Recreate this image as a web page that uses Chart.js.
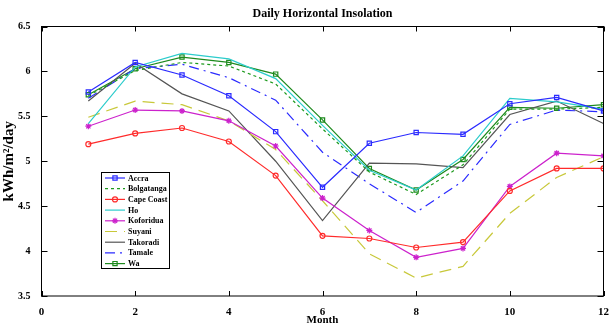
<!DOCTYPE html>
<html>
<head>
<meta charset="utf-8">
<script src="https://cdn.jsdelivr.net/npm/chart.js@4.4.0/dist/chart.umd.min.js"></script>
<style>
  html, body { margin: 0; padding: 0; background: #fff; }
  #wrap { width: 611px; height: 327px; position: relative; }
</style>
</head>
<body>
<div id="wrap"><canvas id="chart"></canvas></div>
<script>
// Monthly values, kWh/m2/day
const months = [1, 2, 3, 4, 5, 6, 7, 8, 9, 10, 11, 12];
const accra      = [5.77, 6.10, 5.96, 5.73, 5.33, 4.71, 5.20, 5.32, 5.30, 5.64, 5.71, 5.56];
const bolgatanga = [5.73, 6.01, 6.10, 6.06, 5.86, 5.36, 4.88, 4.63, 4.96, 5.58, 5.58, 5.60];
const capeCoast  = [5.19, 5.31, 5.37, 5.22, 4.84, 4.17, 4.14, 4.04, 4.10, 4.67, 4.92, 4.92];
const ho         = [5.42, 6.05, 6.20, 6.14, 5.92, 5.40, 4.90, 4.68, 5.06, 5.70, 5.66, 5.58];
const koforidua  = [5.39, 5.57, 5.56, 5.45, 5.17, 4.59, 4.23, 3.93, 4.03, 4.72, 5.09, 5.06];
const suyani     = [5.49, 5.67, 5.63, 5.45, 5.13, 4.56, 3.97, 3.70, 3.83, 4.42, 4.82, 5.05];
const takoradi   = [5.67, 6.09, 5.75, 5.56, 5.00, 4.34, 4.98, 4.97, 4.93, 5.52, 5.67, 5.42];
const tamale     = [5.70, 6.03, 6.08, 5.93, 5.68, 5.10, 4.75, 4.43, 4.78, 5.41, 5.57, 5.55];
const wa         = [5.74, 6.03, 6.16, 6.10, 5.97, 5.46, 4.92, 4.68, 5.02, 5.60, 5.59, 5.63];

const xTicks = [0, 2, 4, 6, 8, 10, 12];
const yTicks = [3.5, 4, 4.5, 5, 5.5, 6, 6.5];

const titleText = 'Daily Horizontal Insolation';
const serif = '"Liberation Serif", "DejaVu Serif", serif';

const toPoints = vals => months.map((m, i) => ({ x: m, y: vals[i] }));

const makeSet = (label, vals, color, dash, style) => ({
    label: label,
    data: toPoints(vals),
    borderColor: color,
    backgroundColor: 'rgba(0,0,0,0)',
    borderWidth: 1.2,
    borderDash: dash,
    pointStyle: style || 'circle',
    pointRadius: style ? 3 : 0,
    pointBorderColor: color,
    pointBackgroundColor: 'rgba(0,0,0,0)',
    pointBorderWidth: 1.2,
    tension: 0,
    fill: false
});

const datasets = [
    makeSet('Accra', accra, '#2b2bff', [], 'rect'),
    makeSet('Bolgatanga', bolgatanga, '#1e9a1e', [3, 3]),
    makeSet('Cape Coast', capeCoast, '#ff2b2b', [], 'circle'),
    makeSet('Ho', ho, '#2ccccc', []),
    makeSet('Koforidua', koforidua, '#cc22cc', [], 'star'),
    makeSet('Suyani', suyani, '#c8c83a', [12, 7]),
    makeSet('Takoradi', takoradi, '#555555', []),
    makeSet('Tamale', tamale, '#2b2bff', [10, 5, 2, 5]),
    makeSet('Wa', wa, '#1e8a1e', [], 'rect')
];
datasets[2].pointRadius = 2.5;

// title over the plot, frame, inward ticks and the boxed legend
const framePlugin = {
    id: 'frame',
    afterDraw(chart) {
        const ctx = chart.ctx;
        const a = chart.chartArea;
        const xs = chart.scales.x, ys = chart.scales.y;
        ctx.save();
        ctx.fillStyle = '#000';
        ctx.font = 'bold 12px ' + serif;
        ctx.textAlign = 'center';
        ctx.textBaseline = 'middle';
        ctx.fillText(titleText, (a.left + a.right) / 2, 14);
        ctx.textAlign = 'left';

        ctx.strokeStyle = '#000';
        ctx.lineWidth = 1;
        ctx.setLineDash([]);
        ctx.strokeRect(a.left, a.top, a.right - a.left, a.bottom - a.top);
        ctx.beginPath();
        xTicks.forEach(v => {
            const px = Math.round(xs.getPixelForValue(v)) + 0.5;
            ctx.moveTo(px, a.bottom); ctx.lineTo(px, a.bottom - 5);
            ctx.moveTo(px, a.top); ctx.lineTo(px, a.top + 5);
        });
        yTicks.forEach(v => {
            const py = Math.round(ys.getPixelForValue(v)) + 0.5;
            ctx.moveTo(a.left, py); ctx.lineTo(a.left + 6, py);
            ctx.moveTo(a.right, py); ctx.lineTo(a.right - 6, py);
        });
        ctx.stroke();

        // legend
        const lx = 101, ly = 172, lw = 68, lh = 96, step = 10.7;
        ctx.fillStyle = '#fff';
        ctx.fillRect(lx, ly, lw, lh);
        ctx.strokeStyle = '#000';
        ctx.strokeRect(lx + 0.5, ly + 0.5, lw, lh);
        ctx.font = 'bold 8px ' + serif;
        chart.data.datasets.forEach((ds, i) => {
            const y = ly + 6 + i * step;
            ctx.strokeStyle = ds.borderColor;
            ctx.lineWidth = 1.2;
            ctx.setLineDash(ds.borderDash);
            ctx.beginPath();
            ctx.moveTo(lx + 4, y); ctx.lineTo(lx + 24, y);
            ctx.stroke();
            ctx.setLineDash([]);
            if (ds.pointRadius > 0) {
                ctx.fillStyle = 'rgba(0,0,0,0)';
                Chart.helpers.drawPoint(ctx, {
                    pointStyle: ds.pointStyle, radius: ds.pointRadius,
                    borderWidth: 1.2, rotation: 0
                }, lx + 14, y);
            }
            ctx.fillStyle = '#000';
            ctx.fillText(ds.label, lx + 27, y + 0.5);
        });
        ctx.restore();
    }
};

new Chart(document.getElementById('chart').getContext('2d'), {
    type: 'line',
    data: { datasets: datasets },
    options: {
        responsive: true,
        maintainAspectRatio: false,
        animation: false,
        layout: { padding: { left: 0, right: 4, top: 26.5, bottom: 0 } },
        plugins: {
            legend: { display: false },
            tooltip: { enabled: false },
            title: { display: false }
        },
        scales: {
            x: {
                type: 'linear',
                min: 0, max: 12,
                afterBuildTicks: s => { s.ticks = xTicks.map(v => ({ value: v })); },
                afterFit: s => { s.height = 31; },
                grid: { display: false },
                border: { display: false },
                ticks: { color: '#000', padding: 2, maxRotation: 0,
                         callback: v => String(v),
                         font: { family: serif, size: 11, weight: 'bold' } },
                title: { display: true, text: 'Month', color: '#000', padding: 0,
                         font: { family: serif, size: 11, weight: 'bold' } }
            },
            y: {
                type: 'linear',
                min: 3.5, max: 6.5,
                afterBuildTicks: s => { s.ticks = yTicks.map(v => ({ value: v })); },
                afterFit: s => { s.width = 41.5; },
                grid: { display: false },
                border: { display: false },
                ticks: { color: '#000', padding: 3,
                         callback: v => String(v),
                         font: { family: serif, size: 10, weight: 'bold' } },
                title: { display: true, text: 'kWh/m\u00B2/day', color: '#000', padding: 0,
                         font: { family: serif, size: 15, weight: 'bold' } }
            }
        }
    },
    plugins: [framePlugin]
});
</script>
</body>
</html>
